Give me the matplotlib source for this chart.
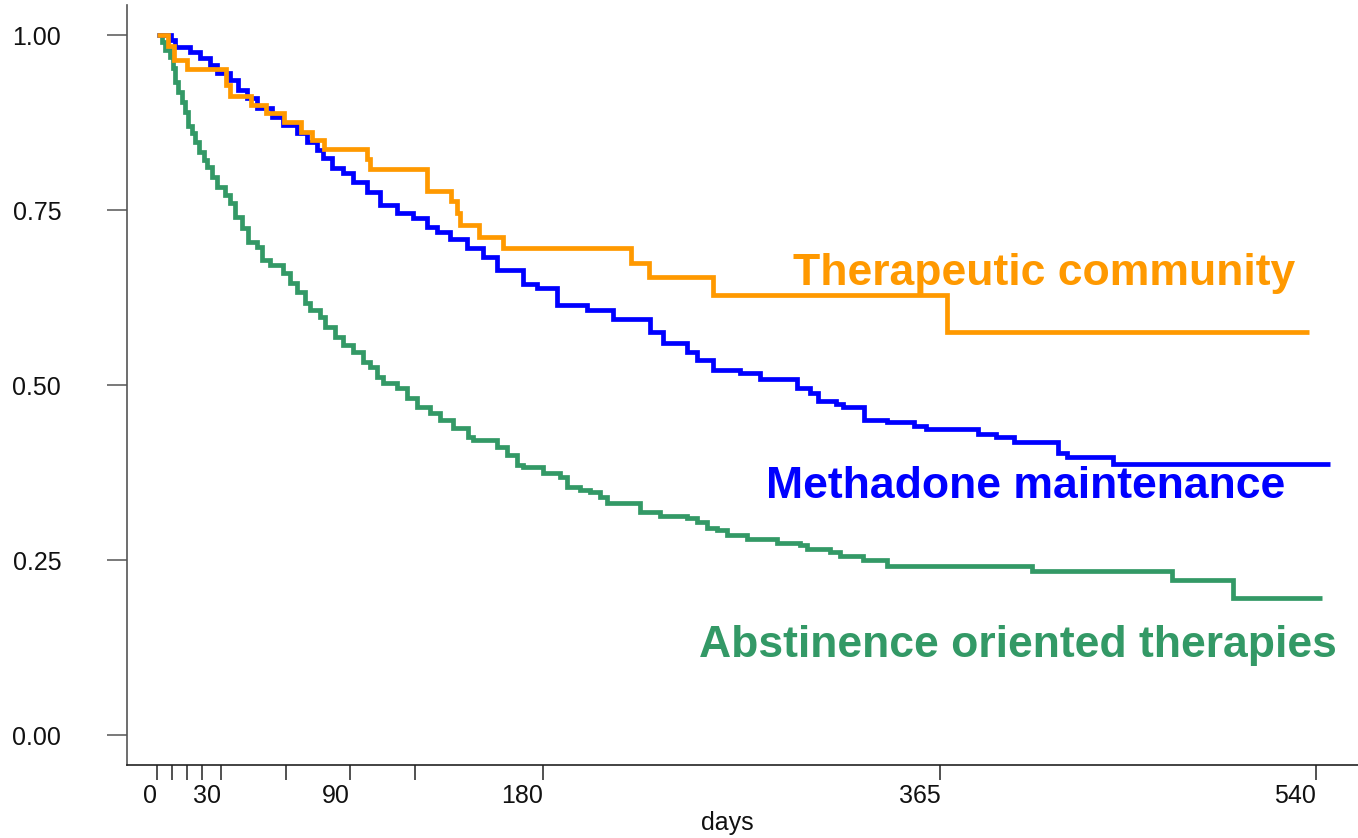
import matplotlib
matplotlib.use("Agg")
import matplotlib.pyplot as plt
from matplotlib.ticker import FixedLocator, NullFormatter

plt.rcParams['font.family'] = ['Liberation Sans', 'DejaVu Sans']

# ---- data ----
tc_days = [0, 5, 8, 14, 32, 34, 44, 51, 59, 67, 72, 78, 98, 99, 126, 137, 140, 141,
           150, 161, 221, 229, 259, 368]
tc_surv = [1.0, 0.985, 0.964, 0.952, 0.929, 0.913, 0.900, 0.889, 0.876, 0.861, 0.850,
           0.837, 0.823, 0.809, 0.777, 0.763, 0.746, 0.729, 0.711, 0.696, 0.674, 0.654,
           0.629, 0.576]
tc_end = 537

mm_days = [0, 6.5, 8.4, 15.4, 20, 24.7, 28, 34, 37.7, 41.9, 46.6, 53.6, 58.7, 65.2,
           69.9, 74.5, 77.3, 81.5, 86.7, 91.3, 97.8, 103.9, 111.8, 119.3, 125.8, 130.5,
           136.5, 144.4, 151.9, 158.4, 170.5, 177, 186.4, 200.3, 212.5, 229.7, 235.8,
           246.9, 251.6, 259, 271.6, 280.9, 298.2, 304.2, 308, 316.4, 319.6, 329.4,
           340.1, 352.7, 358.3, 382.5, 390.9, 399.3, 419.8, 424, 445.4]
mm_surv = [1.0, 0.993, 0.983, 0.976, 0.967, 0.957, 0.946, 0.936, 0.921, 0.910, 0.896,
           0.883, 0.871, 0.860, 0.847, 0.836, 0.824, 0.810, 0.803, 0.790, 0.776, 0.757,
           0.746, 0.739, 0.726, 0.719, 0.709, 0.696, 0.683, 0.664, 0.644, 0.639, 0.614,
           0.607, 0.594, 0.576, 0.560, 0.547, 0.536, 0.521, 0.517, 0.509, 0.496, 0.489,
           0.477, 0.473, 0.469, 0.450, 0.447, 0.441, 0.437, 0.430, 0.426, 0.419, 0.403,
           0.397, 0.387]
mm_end = 546.5

ab_days = [0, 2.3, 3.7, 6.1, 7.5, 8.4, 9.8, 11.6, 13, 14.4, 16.3, 17.7, 19.6, 21.9,
           23.3, 25.6, 28, 31.7, 34, 36.3, 39.6, 42.4, 46.6, 48.9, 52.6, 58.7, 62, 65.2,
           69, 71.3, 75.9, 78.3, 82.9, 86.7, 91.3, 96, 99.2, 102.5, 105.3, 111.8, 116.5,
           121.1, 127.2, 131.9, 137.9, 144.9, 147.2, 158.4, 163.1, 167.7, 170.5, 179.8,
           187.8, 191, 197.1, 201.7, 206.4, 209.7, 225, 234.4, 246.9, 251.6, 256.3,
           260.9, 265.6, 274.9, 288.9, 299.6, 302.8, 313.6, 318.2, 328.9, 340.1, 407.7,
           472.9, 501.3]
ab_surv = [1.0, 0.990, 0.979, 0.969, 0.953, 0.933, 0.919, 0.904, 0.890, 0.870, 0.860,
           0.847, 0.833, 0.821, 0.811, 0.797, 0.783, 0.771, 0.760, 0.740, 0.724, 0.704,
           0.697, 0.679, 0.671, 0.660, 0.646, 0.633, 0.617, 0.607, 0.597, 0.583, 0.569,
           0.557, 0.547, 0.533, 0.526, 0.511, 0.503, 0.496, 0.481, 0.469, 0.460, 0.450,
           0.439, 0.426, 0.421, 0.411, 0.400, 0.386, 0.383, 0.374, 0.369, 0.354, 0.350,
           0.347, 0.340, 0.331, 0.319, 0.313, 0.310, 0.304, 0.296, 0.293, 0.286, 0.280,
           0.274, 0.271, 0.266, 0.261, 0.256, 0.250, 0.241, 0.234, 0.221, 0.196]
ab_end = 542.8

major_ticks = [0, 30, 90, 180, 365, 540]
minor_ticks = [7, 14, 21, 60, 120]
y_ticks = [0.0, 0.25, 0.5, 0.75, 1.0]
y_labels = ["0.00", "0.25", "0.50", "0.75", "1.00"]

labels = ["Therapeutic community", "Methadone maintenance", "Abstinence oriented therapies"]
colors = ["#FF9900", "#0000FF", "#339966"]

# ---- figure ----
fig = plt.figure(figsize=(13.58, 8.38), dpi=100)
ax = fig.add_axes([127/1358, (838-765)/838, 1 - 127/1358, (765-5)/838])

def draw(days, surv, end, color):
    ax.step(list(days) + [end], list(surv) + [surv[-1]], where='post',
            color=color, lw=3.4, solid_joinstyle='miter', solid_capstyle='butt')

draw(ab_days, ab_surv, ab_end, colors[2])
draw(mm_days, mm_surv, mm_end, colors[1])
draw(tc_days, tc_surv, tc_end, colors[0])

ax.set_xlim(-14, 559.6)
ax.set_ylim(-30/700, 1 + 30/700)

for s in ['top', 'right']:
    ax.spines[s].set_visible(False)
ax.spines['left'].set_color('#555555')
ax.spines['bottom'].set_color('#222222')
ax.spines['left'].set_linewidth(1.2)
ax.spines['bottom'].set_linewidth(1.2)

ax.xaxis.set_major_locator(FixedLocator(major_ticks))
ax.xaxis.set_minor_locator(FixedLocator(minor_ticks))
ax.xaxis.set_minor_formatter(NullFormatter())
ax.set_xticklabels([str(t) for t in major_ticks])
for lab in ax.get_xticklabels():
    lab.set_horizontalalignment('right')
ax.tick_params(axis='x', which='both', length=11, width=1.1, color='#222222',
               labelsize=18, pad=3, labelcolor='#111111')
ax.set_yticks(y_ticks)
ax.set_yticklabels(y_labels)
ax.tick_params(axis='y', length=14.4, width=1.1, color='#555555', labelsize=18,
               pad=33, labelcolor='#111111')

fig.text(727/1358, (838-823)/838, "days", ha='center', va='center', fontsize=18,
         color='#111111')

# curve labels
ax.text(530.2, 0.643, labels[0], color=colors[0], fontsize=32, fontweight='bold',
        ha='right', va='baseline')
ax.text(525.6, 0.339, labels[1], color=colors[1], fontsize=32, fontweight='bold',
        ha='right', va='baseline')
ax.text(549.8, 0.111, labels[2], color=colors[2], fontsize=32, fontweight='bold',
        ha='right', va='baseline')

fig.savefig("out.png", dpi=100)
